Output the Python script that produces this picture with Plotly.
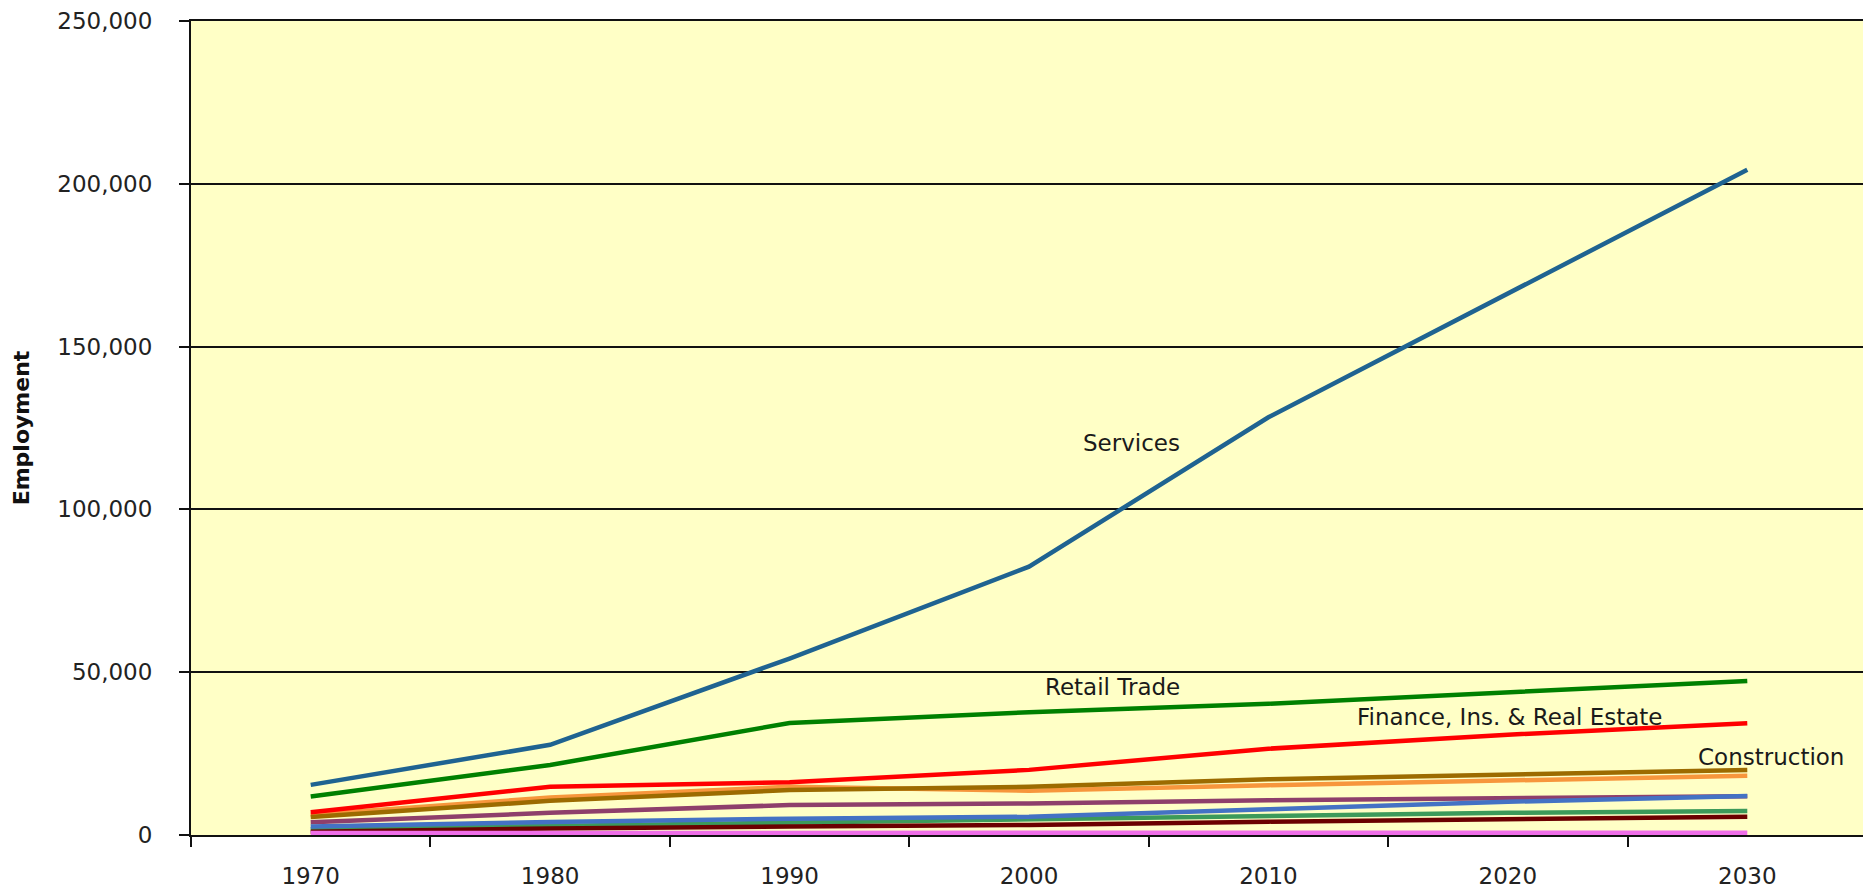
import plotly.graph_objects as go

# employment by sector
years = ["1970", "1980", "1990", "2000", "2010", "2020", "2030"]

services = [15400, 27700, 54200, 82400, 128300, 166300, 204300]
retail_trade = [11800, 21500, 34400, 37700, 40300, 43800, 47300]
finance_ins_re = [7000, 14800, 16200, 20000, 26500, 30800, 34300]
construction = [5500, 10500, 13800, 14800, 17100, 18500, 20000]
manufacturing = [6200, 11500, 14800, 13600, 15300, 16600, 18200]
wholesale_trade = [3900, 6800, 9200, 9700, 10700, 11400, 11900]
government = [2600, 4000, 5000, 5600, 7900, 10200, 12000]
transportation = [1800, 2800, 3800, 4600, 5600, 6800, 7400]
agriculture = [1000, 2000, 2600, 3100, 4100, 4800, 5600]
mining = [600, 700, 700, 700, 700, 700, 700]

series = [
    ("Manufacturing", manufacturing, "#F7963C"),
    ("Construction", construction, "#9C6B00"),
    ("Wholesale Trade", wholesale_trade, "#8E3F6B"),
    ("Transportation & Utilities", transportation, "#3C9A5A"),
    ("Agriculture", agriculture, "#6B0000"),
    ("Government", government, "#4472C4"),
    ("Finance, Ins. & Real Estate", finance_ins_re, "#FF0000"),
    ("Retail Trade", retail_trade, "#008000"),
    ("Services", services, "#1F6391"),
    ("Mining", mining, "#EE6EE8"),
]

# text labels placed next to the lines (x = category position)
labels = [
    ("Services", 3.43, 120500),
    ("Retail Trade", 3.35, 45500),
    ("Finance, Ins. & Real Estate", 5.01, 36300),
    ("Construction", 6.10, 24000),
]

fig = go.Figure()

for name, vals, color in series:
    fig.add_trace(go.Scatter(
        x=years,
        y=vals,
        mode="lines",
        name=name,
        line=dict(color=color, width=4.5),
        showlegend=False
    ))

for text, xpos, ypos in labels:
    fig.add_annotation(
        x=xpos, y=ypos, text=text, showarrow=False,
        font=dict(family="DejaVu Sans", size=23, color="#1a1a1a"),
        xanchor="center", yanchor="middle"
    )

# page body adds an 8px offset, margins compensate for it
fig.update_layout(
    width=1871,
    height=894,
    margin=dict(l=183, r=12, t=13, b=67),
    paper_bgcolor="white",
    plot_bgcolor="#FFFFC6",
    font=dict(family="DejaVu Sans", size=23, color="#222222"),
)

fig.update_xaxes(
    type="category",
    range=[-0.5, 6.5],
    tickson="boundaries",
    ticks="outside",
    ticklen=10,
    tickwidth=2,
    tickcolor="#111111",
    ticklabelstandoff=19,
    showgrid=False,
    showline=True,
    linecolor="#111111",
    linewidth=2,
    mirror=True,
    automargin=False,
    layer="below traces",
    tickfont=dict(family="DejaVu Sans", size=23, color="#222222")
)

fig.update_yaxes(
    range=[0, 250000],
    tickvals=[0, 50000, 100000, 150000, 200000, 250000],
    tickformat=",d",
    ticks="outside",
    ticklen=10,
    tickwidth=2,
    tickcolor="#111111",
    ticklabelstandoff=22,
    showgrid=True,
    gridcolor="#111111",
    gridwidth=1.7,
    zeroline=False,
    showline=True,
    linecolor="#111111",
    linewidth=2,
    mirror=True,
    automargin=False,
    layer="below traces",
    title=dict(text="<b>Employment</b>", standoff=22,
               font=dict(family="DejaVu Sans", size=22, color="#111111")),
    tickfont=dict(family="DejaVu Sans", size=23, color="#222222")
)

fig.write_html("out.html")
